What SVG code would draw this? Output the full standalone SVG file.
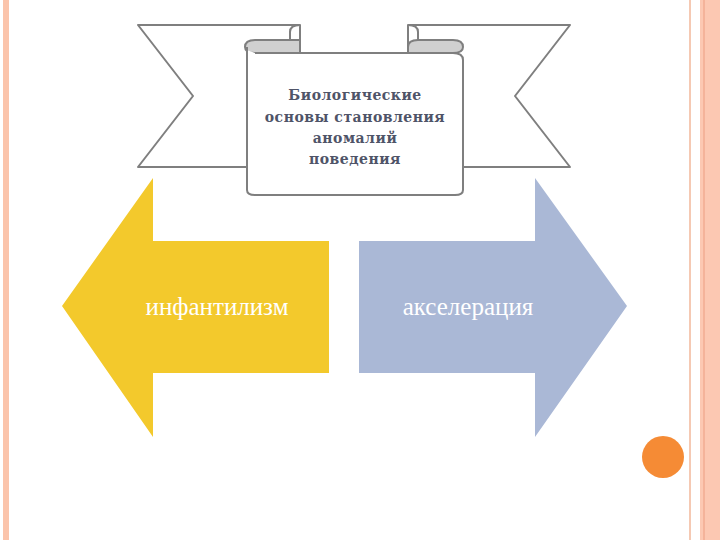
<svg xmlns="http://www.w3.org/2000/svg" width="720" height="540" viewBox="0 0 720 540">
<style>
.rb{fill:#fff;stroke:#7f7f7f;stroke-width:2;stroke-linejoin:round}
.fold{fill:#d0d0d0;stroke:#7f7f7f;stroke-width:2}
.t{font-family:"DejaVu Serif","Liberation Serif",serif;font-weight:bold;font-size:14px;fill:#4f5468;text-anchor:middle;letter-spacing:0.5px}
.a{font-family:"Liberation Serif",serif;font-size:25px;fill:#fff;text-anchor:middle}
</style>
<rect width="720" height="540" fill="#fff"/>
<rect x="3" y="0" width="6" height="540" fill="#fbc4ab"/>
<rect x="689" y="0" width="2" height="540" fill="#f5c9b3"/>
<rect x="700" y="0" width="20" height="540" fill="#fcc8b2"/>
<rect x="703" y="0" width="2" height="540" fill="#f4b39a"/>
<g id="infantilism">
<polygon points="62,306 153,178 153,241 329,241 329,373 153,373 153,437" fill="#f3c92c"/>
<text class="a" x="217" y="315">инфантилизм</text>
</g>
<g id="acceleration">
<polygon points="627,306 535,178 535,241 359,241 359,373 535,373 535,437" fill="#aab8d6"/>
<text class="a" x="468" y="315">акселерация</text>
</g>
<g id="ribbon">
<polygon class="rb" points="138,25 300,25 300,167 138,167 193,96"/>
<polygon class="rb" points="570,25 408,25 408,167 570,167 515,96"/>
<path class="fold" d="M245,47 Q245,40 255,40 L300,40 L300,53 L255,53 Q245,53 245,47 Z"/>
<path class="fold" d="M408,47 Q408,40 418,40 L453,40 Q463,40 463,47 Q463,53 453,53 L408,53 Z"/>
<path class="rb" d="M300,25 Q290,25 290,32 L290,40 M408,25 Q418,25 418,32 L418,40" fill="none"/>
<path class="rb" d="M255,53 L453,53 Q463,53 463,60 L463,190 Q463,195 455,195 L255,195 Q247,195 247,190 L247,50"/>
<path d="M247,47 L247,190" stroke="#7f7f7f" stroke-width="2"/>
<text class="t" x="355" y="100">Биологические</text>
<text class="t" x="355" y="122">основы становления</text>
<text class="t" x="355" y="143">аномалий</text>
<text class="t" x="355" y="164">поведения</text>
</g>
<circle id="dot" cx="663" cy="457" r="21" fill="#f58b35"/>
</svg>
